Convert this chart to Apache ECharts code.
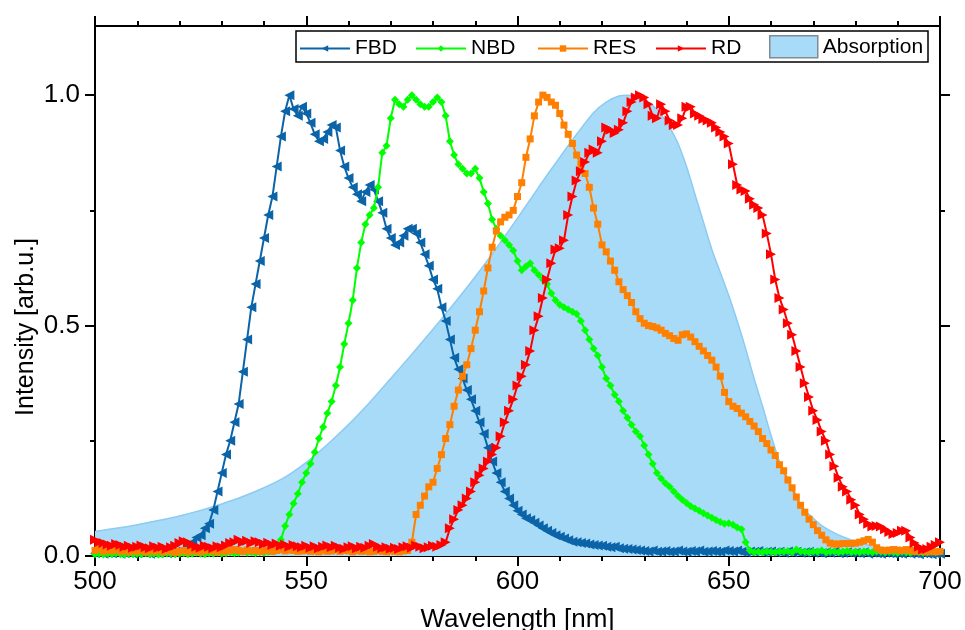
<!DOCTYPE html>
<html><head><meta charset="utf-8">
<script src="https://cdn.jsdelivr.net/npm/echarts@6/dist/echarts.min.js"></script>
<style>html,body{margin:0;padding:0;background:#fff}#c{width:965px;height:630px}</style>
</head><body><div id="c"></div>
<script>
// Wavelength grid (nm) for the emission spectra
const wl = [
500,501,502,503,504,505,506,507,508,509,510,511,512,513,514,515,516,517,518,519,
520,521,522,523,524,525,526,527,528,529,530,531,532,533,534,535,536,537,538,539,
540,541,542,543,544,545,546,547,548,549,550,551,552,553,554,555,556,557,558,559,
560,561,562,563,564,565,566,567,568,569,570,571,572,573,574,575,576,577,578,579,
580,581,582,583,584,585,586,587,588,589,590,591,592,593,594,595,596,597,598,599,
600,601,602,603,604,605,606,607,608,609,610,611,612,613,614,615,616,617,618,619,
620,621,622,623,624,625,626,627,628,629,630,631,632,633,634,635,636,637,638,639,
640,641,642,643,644,645,646,647,648,649,650,651,652,653,654,655,656,657,658,659,
660,661,662,663,664,665,666,667,668,669,670,671,672,673,674,675,676,677,678,679,
680,681,682,683,684,685,686,687,688,689,690,691,692,693,694,695,696,697,698,699,
700];

const fbd = [
0.006,0.008,0.005,0.007,0.006,0.008,0.005,0.006,0.007,0.005,
0.006,0.008,0.006,0.005,0.007,0.006,0.008,0.006,0.007,0.009,
0.010,0.014,0.020,0.030,0.040,0.045,0.060,0.070,0.100,0.140,
0.180,0.220,0.250,0.290,0.330,0.400,0.470,0.540,0.590,0.640,
0.690,0.740,0.780,0.845,0.910,0.965,1.000,0.970,0.955,0.975,
0.960,0.940,0.915,0.900,0.905,0.920,0.935,0.930,0.880,0.845,
0.820,0.800,0.785,0.770,0.790,0.805,0.795,0.770,0.745,0.710,
0.690,0.675,0.680,0.695,0.710,0.710,0.700,0.680,0.655,0.630,
0.600,0.580,0.540,0.510,0.470,0.430,0.405,0.385,0.360,0.340,
0.315,0.290,0.265,0.235,0.205,0.180,0.160,0.140,0.125,0.110,
0.098,0.090,0.082,0.078,0.072,0.066,0.060,0.055,0.050,0.045,
0.042,0.038,0.034,0.031,0.030,0.028,0.027,0.025,0.024,0.023,
0.022,0.020,0.019,0.020,0.017,0.016,0.015,0.014,0.013,0.012,
0.011,0.010,0.012,0.009,0.010,0.011,0.009,0.010,0.012,0.010,
0.009,0.011,0.010,0.012,0.009,0.010,0.011,0.010,0.009,0.012,
0.011,0.010,0.012,0.009,0.008,0.010,0.009,0.011,0.008,0.009,
0.010,0.008,0.009,0.007,0.010,0.008,0.009,0.007,0.008,0.009,
0.007,0.008,0.006,0.008,0.007,0.009,0.006,0.007,0.008,0.006,
0.007,0.006,0.008,0.005,0.007,0.006,0.005,0.007,0.006,0.005,
0.006,0.005,0.007,0.005,0.006,0.004,0.006,0.005,0.004,0.005,
0.005];

const nbd = [
0.004,0.005,0.003,0.005,0.004,0.006,0.004,0.003,0.005,0.004,
0.005,0.004,0.006,0.004,0.005,0.003,0.004,0.006,0.005,0.004,
0.005,0.006,0.004,0.005,0.007,0.005,0.004,0.006,0.005,0.007,
0.005,0.006,0.008,0.006,0.007,0.009,0.007,0.008,0.006,0.008,
0.007,0.009,0.010,0.012,0.035,0.065,0.090,0.114,0.135,0.160,
0.180,0.200,0.225,0.255,0.280,0.310,0.335,0.370,0.410,0.460,
0.505,0.555,0.625,0.680,0.720,0.740,0.755,0.800,0.875,0.890,
0.950,0.990,0.980,0.975,0.990,1.000,0.990,0.980,0.975,0.975,
0.985,0.995,0.985,0.955,0.900,0.870,0.850,0.840,0.830,0.830,
0.840,0.820,0.790,0.765,0.730,0.710,0.695,0.685,0.675,0.663,
0.640,0.620,0.628,0.635,0.620,0.610,0.600,0.590,0.570,0.555,
0.545,0.540,0.535,0.530,0.525,0.510,0.490,0.470,0.450,0.435,
0.410,0.385,0.370,0.350,0.335,0.315,0.300,0.285,0.270,0.260,
0.240,0.220,0.200,0.180,0.168,0.158,0.150,0.140,0.130,0.122,
0.115,0.108,0.103,0.098,0.093,0.088,0.083,0.078,0.074,0.070,
0.071,0.068,0.062,0.058,0.030,0.012,0.008,0.009,0.008,0.010,
0.009,0.008,0.010,0.009,0.011,0.008,0.014,0.010,0.009,0.008,
0.010,0.009,0.012,0.008,0.009,0.010,0.008,0.009,0.011,0.008,
0.009,0.008,0.010,0.009,0.008,0.010,0.009,0.008,0.009,0.008,
0.007,0.009,0.008,0.007,0.009,0.008,0.007,0.008,0.009,0.008,
0.010];

const res = [
0.012,0.015,0.010,0.013,0.011,0.014,0.010,0.012,0.009,0.011,
0.010,0.012,0.009,0.011,0.010,0.013,0.009,0.011,0.010,0.008,
0.010,0.012,0.009,0.011,0.010,0.009,0.011,0.013,0.010,0.009,
0.011,0.010,0.012,0.014,0.012,0.010,0.013,0.011,0.012,0.010,
0.011,0.013,0.010,0.012,0.014,0.011,0.013,0.012,0.010,0.011,
0.012,0.010,0.011,0.009,0.012,0.010,0.011,0.013,0.010,0.012,
0.011,0.009,0.012,0.010,0.011,0.009,0.010,0.012,0.010,0.009,
0.011,0.010,0.009,0.011,0.012,0.030,0.090,0.110,0.130,0.150,
0.160,0.190,0.220,0.255,0.285,0.325,0.360,0.390,0.415,0.450,
0.490,0.530,0.575,0.625,0.670,0.705,0.725,0.735,0.740,0.750,
0.780,0.810,0.865,0.905,0.955,0.985,1.000,0.995,0.985,0.978,
0.960,0.935,0.915,0.895,0.870,0.850,0.830,0.800,0.755,0.720,
0.675,0.660,0.640,0.620,0.595,0.578,0.565,0.550,0.530,0.515,
0.505,0.500,0.498,0.495,0.490,0.483,0.478,0.472,0.468,0.480,
0.482,0.475,0.465,0.455,0.445,0.435,0.425,0.410,0.390,0.355,
0.335,0.325,0.320,0.310,0.302,0.292,0.282,0.270,0.255,0.244,
0.230,0.218,0.198,0.185,0.165,0.148,0.128,0.110,0.095,0.080,
0.068,0.055,0.045,0.035,0.028,0.026,0.026,0.027,0.027,0.027,
0.028,0.030,0.033,0.036,0.030,0.018,0.013,0.012,0.013,0.014,
0.013,0.012,0.014,0.012,0.010,0.010,0.011,0.009,0.010,0.009,
0.010];

const rd = [
0.035,0.030,0.028,0.025,0.022,0.026,0.024,0.020,0.022,0.018,
0.020,0.023,0.019,0.017,0.021,0.018,0.020,0.016,0.019,0.022,
0.028,0.032,0.030,0.025,0.020,0.018,0.022,0.020,0.017,0.021,
0.019,0.023,0.028,0.030,0.035,0.030,0.033,0.028,0.032,0.030,
0.026,0.029,0.024,0.027,0.022,0.025,0.020,0.024,0.021,0.019,
0.022,0.018,0.021,0.017,0.020,0.023,0.019,0.022,0.018,0.016,
0.019,0.021,0.017,0.020,0.018,0.022,0.026,0.020,0.017,0.019,
0.016,0.018,0.015,0.019,0.021,0.018,0.023,0.020,0.017,0.019,
0.022,0.020,0.024,0.030,0.060,0.080,0.100,0.110,0.125,0.140,
0.160,0.175,0.190,0.205,0.220,0.235,0.260,0.290,0.315,0.340,
0.370,0.390,0.415,0.445,0.490,0.520,0.560,0.600,0.635,0.665,
0.668,0.685,0.740,0.780,0.815,0.835,0.855,0.875,0.882,0.875,
0.900,0.930,0.925,0.918,0.925,0.940,0.965,0.985,0.995,1.000,
0.995,0.980,0.955,0.950,0.980,0.965,0.945,0.935,0.935,0.950,
0.975,0.975,0.960,0.955,0.948,0.945,0.940,0.930,0.920,0.910,
0.895,0.850,0.805,0.795,0.792,0.775,0.762,0.755,0.740,0.700,
0.655,0.600,0.560,0.535,0.505,0.480,0.445,0.410,0.375,0.345,
0.315,0.295,0.270,0.250,0.220,0.195,0.170,0.150,0.140,0.122,
0.110,0.090,0.080,0.070,0.064,0.065,0.064,0.058,0.052,0.048,
0.050,0.055,0.055,0.040,0.028,0.020,0.014,0.015,0.020,0.024,
0.030];

// Absorption spectrum (smooth)
const absWl  = [500,505,510,515,520,525,530,535,540,545,550,555,560,565,570,575,580,585,590,595,600,605,610,614,618,621,624,626,628,630,632,634,636,638,640,642,644,646,648,650,652,654,656,658,660,662,664,666,668,670,672,675,678,681,685,690,695,700];
const absVal = [0.053,0.060,0.068,0.077,0.087,0.099,0.113,0.129,0.148,0.171,0.203,0.242,0.285,0.333,0.385,0.438,0.492,0.548,0.606,0.668,0.733,0.800,0.865,0.915,0.962,0.985,0.998,1.000,0.998,0.990,0.978,0.958,0.930,0.895,0.845,0.785,0.725,0.665,0.615,0.565,0.510,0.450,0.385,0.325,0.262,0.205,0.160,0.125,0.100,0.082,0.066,0.050,0.038,0.028,0.020,0.014,0.011,0.010];

const seriesNames = ['FBD','NBD','RES','RD','Absorption'];
const xTickLabels = [500,550,600,650,700];
const yTickLabels = [0,0.5,1.0];
const yMinorTicks = [0.25,0.75];

const FONT = 'Arial, "Liberation Sans", sans-serif';
const C = {FBD:'#0b64a8', NBD:'#00ff00', RES:'#ff8000', RD:'#ff0000', ABS:'#a8dbf8', ABSLINE:'#8ccbf2'};
function pairs(x, y){ return x.map((v,i)=>[v, y[i]]); }

const black = {color:'#000', width:2};
function yAx(pos, major, labels){
  return {
    type:'value', min:0, max:1.15, position:pos,
    axisLine:{show:major, onZero:false, lineStyle:black},
    axisTick:{show:true, customValues: major ? yTickLabels : yMinorTicks, length: major ? 10 : 5, lineStyle:black},
    axisLabel:{show:labels, customValues:yTickLabels, formatter:v=>Number(v).toFixed(1), fontSize:26, color:'#000', fontFamily:FONT, margin:15},
    splitLine:{show:false}
  };
}
function xAx(pos, labels){
  return {
    type:'value', min:500, max:700, interval:50, position:pos,
    axisLine:{show:true, onZero:false, lineStyle:black},
    axisTick:{show:true, length:10, lineStyle:black},
    minorTick:{show:true, splitNumber:5, length:5, lineStyle:black},
    axisLabel:{show:labels, fontSize:26, color:'#000', fontFamily:FONT, margin:13},
    splitLine:{show:false},
    name: labels ? 'Wavelength [nm]' : '',
    nameLocation:'middle', nameGap:51,
    nameTextStyle:{fontSize:26, color:'#000', fontFamily:FONT}
  };
}
function lg(name, left, top, opts){
  return Object.assign({
    data:[name], left:left, top:top, padding:0, itemWidth:50, itemHeight:8,
    textStyle:{fontSize:21, color:'#000', fontFamily:FONT}, z:10, selectedMode:false
  }, opts||{});
}

const chart = echarts.init(document.getElementById('c'));
chart.setOption({
  animation:false,
  grid:{left:95, right:25, top:26, bottom:74, outerBoundsMode:'none', containLabel:false},
  xAxis:[xAx('bottom', true), xAx('top', false)],
  yAxis:[yAx('left', true, true), yAx('left', false, false), yAx('right', true, false), yAx('right', false, false)],
  legend:[
    lg('FBD', 299, 38), lg('NBD', 415, 38), lg('RES', 537, 38), lg('RD', 655, 38),
    lg('Absorption', 769, 35, {itemWidth:48, itemHeight:22, icon:'rect', itemStyle:{borderColor:'#7d8c96', borderWidth:1.5}})
  ],
  graphic:[
    {type:'rect', z:5, shape:{x:296, y:31, width:632, height:31}, style:{fill:'#fff', stroke:'#000', lineWidth:1.5}},
    {type:'text', z:5, x:26, y:327, rotation:Math.PI/2,
     style:{text:'Intensity [arb.u.]', font:'25px ' + FONT, fill:'#000', textAlign:'center', textVerticalAlign:'middle', align:'center', verticalAlign:'middle'}}
  ],
  series:[
    {name:'Absorption', type:'line', data:pairs(absWl, absVal), smooth:0.3, symbol:'none',
     lineStyle:{color:C.ABSLINE, width:1.5}, itemStyle:{color:C.ABS}, areaStyle:{color:C.ABS, opacity:1}, z:1},
    {name:'FBD', type:'line', data:pairs(wl, fbd), symbol:'triangle', symbolSize:10, symbolRotate:90,
     lineStyle:{color:C.FBD, width:2}, itemStyle:{color:C.FBD}, z:2},
    {name:'NBD', type:'line', data:pairs(wl, nbd), symbol:'diamond', symbolSize:8,
     lineStyle:{color:C.NBD, width:2}, itemStyle:{color:C.NBD}, z:3},
    {name:'RES', type:'line', data:pairs(wl, res), symbol:'rect', symbolSize:7,
     lineStyle:{color:C.RES, width:2}, itemStyle:{color:C.RES}, z:4},
    {name:'RD', type:'line', data:pairs(wl, rd), symbol:'triangle', symbolSize:10, symbolRotate:-90,
     lineStyle:{color:C.RD, width:2}, itemStyle:{color:C.RD}, z:5}
  ]
});
</script>
</body></html>
